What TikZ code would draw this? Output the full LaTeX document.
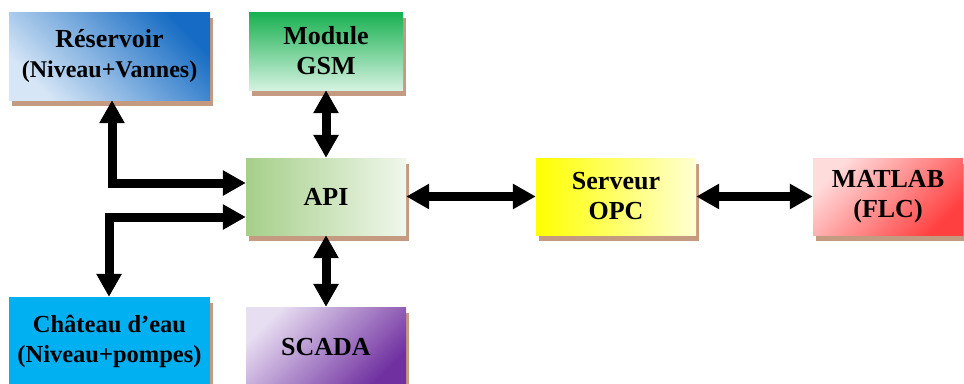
\documentclass[tikz,border=0pt]{standalone}
\usepackage{fontspec}
\setmainfont{Liberation Serif}
\usetikzlibrary{arrows.meta,shadows}
\definecolor{shadowc}{RGB}{196,154,128}
\definecolor{resdark}{RGB}{22,108,196}
\definecolor{reslight}{RGB}{214,230,246}
\definecolor{gsmtop}{RGB}{24,176,80}
\definecolor{gsmbot}{RGB}{212,242,224}
\definecolor{apileft}{RGB}{166,207,138}
\definecolor{apiright}{RGB}{240,247,235}
\definecolor{opcleft}{RGB}{255,255,0}
\definecolor{opcright}{RGB}{255,255,210}
\definecolor{matlight}{RGB}{255,220,220}
\definecolor{matdark}{RGB}{255,64,64}
\definecolor{chateau}{RGB}{0,176,240}
\definecolor{scadalight}{RGB}{232,222,242}
\definecolor{scadadark}{RGB}{112,48,160}
\begin{document}
\begin{tikzpicture}[x=1pt,y=-1pt,
  box/.style={rectangle, inner sep=0pt, align=center,
    font=\bfseries\fontsize{26}{30}\selectfont,
    drop shadow={fill=shadowc, opacity=1, shadow xshift=3pt, shadow yshift=-5.5pt}},
  bi/.style={line width=9pt, line join=miter,
    {Triangle[length=23pt,width=24pt]}-{Triangle[length=23pt,width=24pt]}},
]
\useasboundingbox (0,0) rectangle (964,383);
\node[box, minimum width=201pt, minimum height=88pt, shading=axis,
  top color=resdark, bottom color=reslight, shading angle=-45]
  (res) at (109.5,56) {Réservoir\\{\fontsize{24}{30}\selectfont (Niveau+Vannes)}};
\node[box, minimum width=154pt, minimum height=78pt,
  top color=gsmtop, bottom color=gsmbot]
  (gsm) at (326,51) {Module\\GSM};
\node[box, minimum width=160pt, minimum height=77pt,
  left color=apileft, right color=apiright]
  (api) at (326,196.5) {API};
\node[box, minimum width=160pt, minimum height=77pt,
  left color=opcleft, right color=opcright]
  (opc) at (616,196.5) {Serveur\\OPC};
\node[box, minimum width=150pt, minimum height=77pt,
  top color=matlight, bottom color=matdark, shading angle=45]
  (mat) at (888,196.5) {MATLAB\\(FLC)};
\node[box, minimum width=201pt, minimum height=88pt, fill=chateau,
  font=\bfseries\fontsize{24.5}{30}\selectfont]
  (cha) at (109.5,341) {Château d’eau\\(Niveau+pompes)};
\node[box, minimum width=160pt, minimum height=80pt,
  top color=scadalight, bottom color=scadadark, shading angle=45]
  (scada) at (326,347) {SCADA};
\coordinate (c1) at (112,183);
\coordinate (c2) at (109,217);
\draw[bi] (res.south -| c1) -- (c1) -- (c1 -| api.west);
\draw[bi] (cha.north -| c2) -- (c2) -- (c2 -| api.west);
\draw[bi] (gsm.south) -- (api.north);
\draw[bi] (api.south) -- (scada.north);
\draw[bi] (api.east) -- (opc.west);
\draw[bi] (opc.east) -- (mat.west);
\end{tikzpicture}
\end{document}
